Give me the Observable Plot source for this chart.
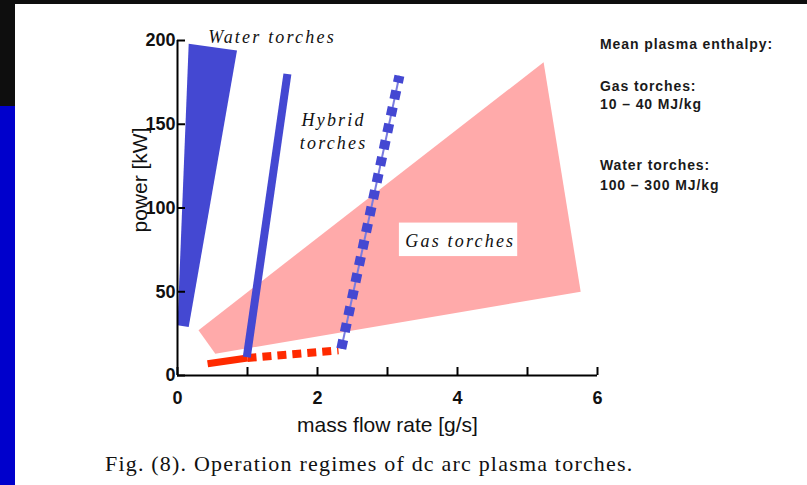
<!DOCTYPE html>
<html>
<head>
<meta charset="utf-8">
<script src="https://cdn.jsdelivr.net/npm/d3@7"></script>
<script src="https://cdn.jsdelivr.net/npm/@observablehq/plot@0.6"></script>
<style>
  html, body { margin: 0; padding: 0; background: #ffffff; }
  #page { position: relative; width: 807px; height: 485px; overflow: hidden; background: #ffffff; }
  .bg { position: absolute; }
  #chart { position: absolute; left: 0; top: 0; }
  .note { position: absolute; left: 600px; font-family: "Liberation Sans", Arial, sans-serif; font-weight: bold; font-size: 14px; line-height: 14px; color: #1a1a1a; letter-spacing: 0.9px; white-space: nowrap; }
  #caption { position: absolute; left: 105px; top: 452px; font-family: "Liberation Serif", "Times New Roman", serif; font-size: 22px; line-height: 24px; color: #111; letter-spacing: 1.2px; white-space: nowrap; }
</style>
</head>
<body>
<div id="page">
  <div class="bg" style="left:0;top:0;width:807px;height:4px;background:#0e0e0e"></div>
  <div class="bg" style="left:0;top:0;width:15px;height:106px;background:#0e0e0e"></div>
  <div class="bg" style="left:0;top:106px;width:15px;height:379px;background:#0000cc"></div>
  <div id="chart"></div>
  <div class="note" style="top:37px">Mean plasma enthalpy:</div>
  <div class="note" style="top:79px">Gas torches:</div>
  <div class="note" style="top:97px">10 – 40 MJ/kg</div>
  <div class="note" style="top:158px">Water torches:</div>
  <div class="note" style="top:178px">100 – 300 MJ/kg</div>
  <div id="caption">Fig. (8). Operation regimes of dc arc plasma torches.</div>
</div>
<script>
// mass flow rate [g/s] and power [kW] outlines
const waterX = [0.16, 0.85, 0.16, 0.0];
const waterY = [198, 194, 29, 30];
const gasX = [0.30, 5.23, 5.76, 0.54];
const gasY = [27, 187, 50, 13];
const hybridX = [0.99, 1.57];
const hybridY = [11, 180];
const dottedX = [2.34, 3.17];
const dottedY = [16, 179];
const redSolidX = [0.43, 1.0];
const redSolidY = [7, 10.5];
const redDashX = [1.0, 2.3];
const redDashY = [10.5, 15];

const xTicks = [0, 1, 2, 3, 4, 5, 6];
const xLabels = [0, 2, 4, 6];
const yTicks = [0, 50, 100, 150, 200];

const labels = [
  {x: 1.35, y: 203, text: "Water torches"},
  {x: 2.23, y: 146.5, text: "Hybrid\ntorches"},
  {x: 4.04, y: 81, text: "Gas torches"}
];
const gasBox = [{x1: 3.17, x2: 4.86, y1: 71, y2: 91}];

const zip = (xs, ys) => xs.map((x, i) => ({x, y: ys[i]}));

const blue = "#4448d2";
const chart = Plot.plot({
  width: 807,
  height: 485,
  marginLeft: 177,
  marginRight: 210,
  marginTop: 40,
  marginBottom: 110,
  style: {background: "transparent", fontFamily: "Liberation Sans, Arial, sans-serif", overflow: "visible"},
  x: {domain: [0, 6], axis: null},
  y: {domain: [0, 200], axis: null},
  marks: [
    Plot.line(zip(gasX, gasY), {x: "x", y: "y", fill: "#ffaaaa", stroke: "none"}),
    Plot.line(zip(waterX, waterY), {x: "x", y: "y", fill: blue, stroke: "none"}),
    Plot.line(zip(redSolidX, redSolidY), {x: "x", y: "y", stroke: "#ff2a00", strokeWidth: 7, strokeLinecap: "butt"}),
    Plot.line(zip(redDashX, redDashY), {x: "x", y: "y", stroke: "#ff2a00", strokeWidth: 8, strokeDasharray: "9,6", strokeLinecap: "butt"}),
    Plot.line(zip(hybridX, hybridY), {x: "x", y: "y", stroke: blue, strokeWidth: 8, strokeLinecap: "butt"}),
    Plot.line(zip(dottedX, dottedY), {x: "x", y: "y", stroke: "#7a7ce0", strokeWidth: 2, strokeLinecap: "butt"}),
    Plot.line(zip(dottedX, dottedY), {x: "x", y: "y", stroke: blue, strokeWidth: 10, strokeDasharray: "9,8", strokeLinecap: "butt"}),
    Plot.rect(gasBox, {x1: "x1", x2: "x2", y1: "y1", y2: "y2", fill: "white"}),
    Plot.text(labels, {x: "x", y: "y", text: "text", ariaDescription: "region-labels", fontFamily: "Liberation Serif, Times New Roman, serif", fontStyle: "italic", fontSize: 18, fill: "#111", lineHeight: 1.25}),
    Plot.ruleX([0], {y1: 0, y2: 200, stroke: "#000", strokeWidth: 2}),
    Plot.ruleY([0], {x1: 0, x2: 6, stroke: "#000", strokeWidth: 2}),
    Plot.axisX({ticks: xTicks, tickSize: -8, tickFormat: () => "", stroke: "#000", strokeWidth: 2}),
    Plot.axisX({ticks: xLabels, tickSize: 0, tickPadding: 16, tickFormat: d => String(d), fontSize: 18, fontWeight: "bold", fill: "#111", label: null}),
    Plot.axisY({ticks: yTicks, tickSize: -8, tickFormat: () => "", stroke: "#000", strokeWidth: 2}),
    Plot.axisY({ticks: yTicks, tickSize: 0, tickPadding: 2, tickFormat: d => String(d), fontSize: 18, fontWeight: "bold", fill: "#111", label: null}),
    Plot.text(["mass flow rate [g/s]"], {frameAnchor: "bottom", dy: 56, fontSize: 21, fontFamily: "Liberation Sans Narrow, Liberation Sans, Arial, sans-serif", fill: "#111"}),
    Plot.text(["power [kW]"], {frameAnchor: "left", textAnchor: "middle", dx: -37, dy: -28, rotate: -90, fontSize: 21, fontFamily: "Liberation Sans Narrow, Liberation Sans, Arial, sans-serif", fill: "#111"})
  ]
});
d3.select(chart).selectAll('g[aria-description="region-labels"] text').attr("letter-spacing", "2.2px");
document.getElementById("chart").appendChild(chart);
</script>
</body>
</html>
